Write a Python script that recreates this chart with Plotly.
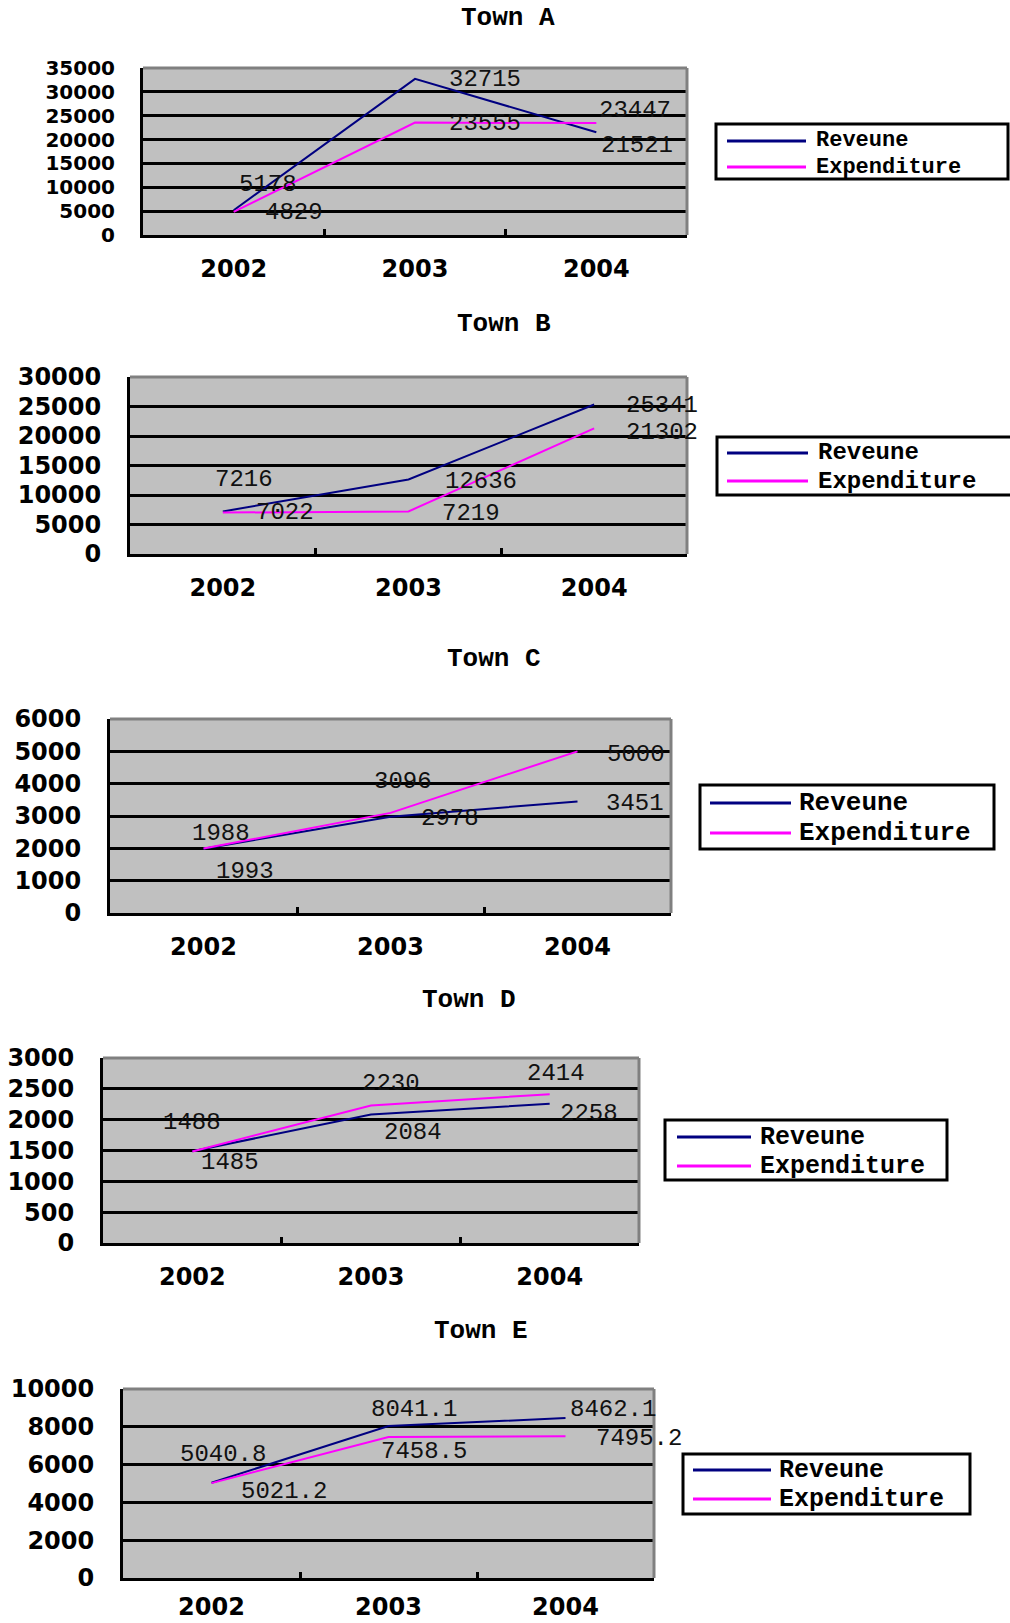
import plotly.graph_objects as go

W, H = 1010, 1623

years = ["2002", "2003", "2004"]
towns = ["Town A", "Town B", "Town C", "Town D", "Town E"]
series_names = ["Reveune", "Expenditure"]

revenue_a = [5178, 32715, 21521]
expenditure_a = [4829, 23555, 23447]
revenue_b = [7216, 12636, 25341]
expenditure_b = [7022, 7219, 21302]
revenue_c = [1988, 2978, 3451]
expenditure_c = [1993, 3096, 5000]
revenue_d = [1488, 2084, 2258]
expenditure_d = [1485, 2230, 2414]
revenue_e = [5040.8, 8041.1, 8462.1]
expenditure_e = [5021.2, 7458.5, 7495.2]

y_max = [35000, 30000, 6000, 3000, 10000]
y_step = [5000, 5000, 1000, 500, 2000]

revenue = [revenue_a, revenue_b, revenue_c, revenue_d, revenue_e]
expenditure = [expenditure_a, expenditure_b, expenditure_c, expenditure_d, expenditure_e]

NAVY = "#000080"
MAGENTA = "#FF00FF"
PLOT_BG = "#C0C0C0"

# Panel geometry in page pixels: plot box (left, right, top, bottom),
# title centre, legend box (left, right, top, bottom), legend rows,
# tick label sizes and standoffs
panels = [
    dict(box=(143, 687, 68, 235), title=(508, 18), leg=(716, 1008, 124, 179),
         leg_line=(727, 806), leg_rows=(141, 167), leg_text=814, leg_size=22,
         ytick_size=20, ytick_gap=21, xtick_gap=10),
    dict(box=(130, 687, 377, 554), title=(504, 324), leg=(717, 1014, 437, 495),
         leg_line=(727, 808), leg_rows=(453, 481), leg_text=816, leg_size=24,
         ytick_size=24, ytick_gap=21, xtick_gap=10),
    dict(box=(110, 671, 719, 913), title=(494, 659), leg=(700, 994, 785, 849),
         leg_line=(710, 791), leg_rows=(803, 833), leg_text=797, leg_size=26,
         ytick_size=24, ytick_gap=21, xtick_gap=10),
    dict(box=(103, 639, 1058, 1243), title=(469, 1000), leg=(665, 947, 1120, 1180),
         leg_line=(677, 751), leg_rows=(1137, 1166), leg_text=758, leg_size=25,
         ytick_size=24, ytick_gap=21, xtick_gap=10),
    dict(box=(123, 654, 1389, 1578), title=(481, 1331), leg=(683, 970, 1454, 1514),
         leg_line=(693, 771), leg_rows=(1470, 1499), leg_text=777, leg_size=25,
         ytick_size=24, ytick_gap=21, xtick_gap=5),
]

# Pixel offsets (dx, dy) of each value label from its point, per year
rev_offsets = [
    [(34, -26), (70, 1), (41, 13)],
    [(21, -32), (72, 2), (68, 1)],
    [(17, -15), (59, 2), (57, 2)],
    [(0, -29), (42, 18), (39, 10)],
    [(11, -28), (25, -17), (47, -9)],
]
exp_offsets = [
    [(60, 1), (70, 1), (39, -13)],
    [(62, 0), (62, 2), (68, 4)],
    [(41, 23), (12, -31), (58, 3)],
    [(38, 11), (20, -22), (6, -21)],
    [(72, 8), (35, 14), (73, 2)],
]

TICK_FAMILY = "DejaVu Sans"
LABEL_FONT = dict(family="Liberation Mono", size=24, color="#111111")
TITLE_FONT = dict(family="Liberation Mono", size=26, color="black", weight="bold")


def fmt(v):
    return f"{v:g}"


def px_x(p):
    return p / W


def px_y(p):
    return 1 - p / H


def tick_font(size):
    return dict(family=TICK_FAMILY, size=size, color="black", weight="bold")


fig = go.Figure()
annotations = []
shapes = []

for i, town in enumerate(towns):
    n = "" if i == 0 else str(i + 1)
    xa, ya = "x" + n, "y" + n
    p = panels[i]
    x0, x1, y0, y1 = p["box"]

    for name, vals, color in ((series_names[0], revenue[i], NAVY),
                              (series_names[1], expenditure[i], MAGENTA)):
        fig.add_trace(go.Scatter(
            x=years, y=vals, mode="lines", name=name,
            line=dict(color=color, width=2),
            xaxis=xa, yaxis=ya, showlegend=False, hoverinfo="x+y+name",
        ))

    fig.update_layout({
        "xaxis" + n: dict(
            domain=[px_x(x0), px_x(x1)], anchor=ya, type="category",
            range=[-0.5, 2.5], tickson="boundaries", ticks="inside",
            ticklen=6, tickwidth=3, tickcolor="black",
            showline=True, linecolor="black", linewidth=3,
            showgrid=False, zeroline=False, tickfont=tick_font(24),
            ticklabelstandoff=p["xtick_gap"], fixedrange=True, automargin=False,
        ),
        "yaxis" + n: dict(
            domain=[px_y(y1), px_y(y0)], anchor=xa,
            range=[0, y_max[i]], dtick=y_step[i], tick0=0, tickformat="d",
            showgrid=True, gridcolor="black", gridwidth=2.5,
            showline=True, linecolor="black", linewidth=3,
            ticks="", zeroline=False, tickfont=tick_font(p["ytick_size"]),
            ticklabelstandoff=p["ytick_gap"], fixedrange=True, automargin=False,
        ),
    })

    # grey top and right frame edges
    for sx0, sy0, sx1, sy1 in ((0, 1, 1, 1), (1, 0, 1, 1)):
        shapes.append(dict(
            type="line", xref=xa + " domain", yref=ya + " domain",
            x0=sx0, y0=sy0, x1=sx1, y1=sy1,
            line=dict(color="#808080", width=3), layer="above",
        ))

    # value labels (category axis positions given by index)
    for vals, offs in ((revenue[i], rev_offsets[i]), (expenditure[i], exp_offsets[i])):
        for j, v in enumerate(vals):
            dx, dy = offs[j]
            annotations.append(dict(
                x=j, y=v, xref=xa, yref=ya, text=fmt(v),
                showarrow=False, xshift=dx, yshift=-dy,
                xanchor="center", yanchor="middle", font=LABEL_FONT,
            ))

    # title
    tx, ty = p["title"]
    annotations.append(dict(
        x=px_x(tx), y=px_y(ty), xref="paper", yref="paper", text=town,
        showarrow=False, xanchor="center", yanchor="middle", font=TITLE_FONT,
    ))

    # legend box
    lx0, lx1, ly0, ly1 = p["leg"]
    shapes.append(dict(
        type="rect", xref="paper", yref="paper",
        x0=px_x(lx0), x1=px_x(lx1), y0=px_y(ly1), y1=px_y(ly0),
        line=dict(color="black", width=3), fillcolor="white", layer="above",
    ))
    sx_a, sx_b = p["leg_line"]
    legend_font = dict(family="Liberation Mono", size=p["leg_size"],
                       color="black", weight="bold")
    for row_y, color, name in zip(p["leg_rows"], (NAVY, MAGENTA), series_names):
        shapes.append(dict(
            type="line", xref="paper", yref="paper",
            x0=px_x(sx_a), x1=px_x(sx_b), y0=px_y(row_y), y1=px_y(row_y),
            line=dict(color=color, width=3), layer="above",
        ))
        annotations.append(dict(
            x=px_x(p["leg_text"]), y=px_y(row_y), xref="paper", yref="paper",
            text=name, showarrow=False, xanchor="left", yanchor="middle",
            font=legend_font,
        ))

fig.update_layout(
    width=W, height=H,
    margin=dict(l=0, r=0, t=0, b=0),
    paper_bgcolor="white", plot_bgcolor=PLOT_BG,
    showlegend=False,
    annotations=annotations, shapes=shapes,
)

fig.write_html("out.html", config={"displayModeBar": False})
